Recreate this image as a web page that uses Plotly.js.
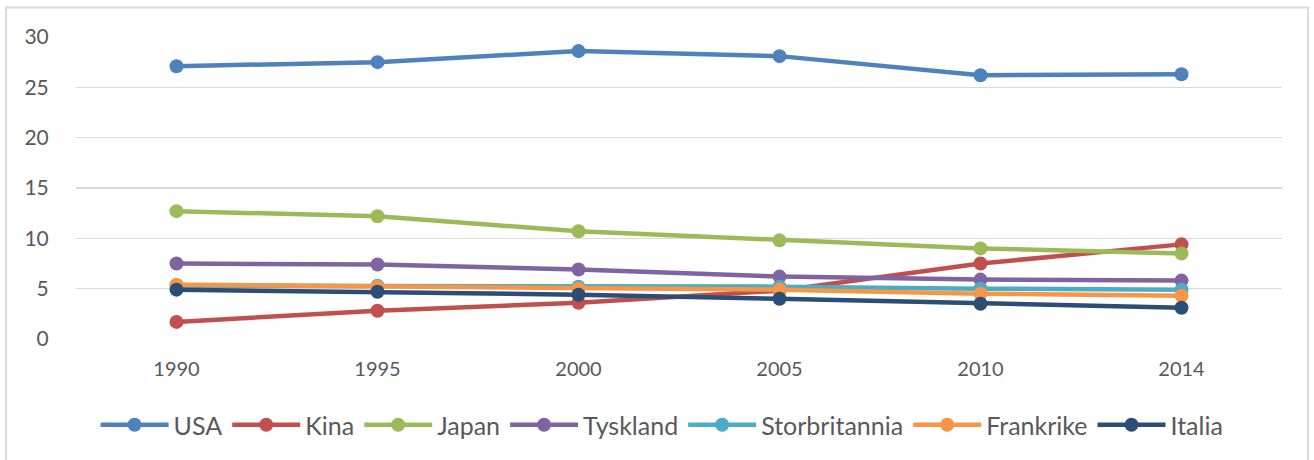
<!DOCTYPE html>
<html>
<head>
<meta charset="utf-8">
<script src="https://cdn.plot.ly/plotly-3.0.1.min.js"></script>
<style>
  html, body { margin: 0; padding: 0; background: #ffffff; }
  #chart { width: 1314px; height: 460px; }
</style>
</head>
<body>
<div id="chart"></div>
<script>
const years = ['1990', '1995', '2000', '2005', '2010', '2014'];
const seriesNames = ['USA', 'Kina', 'Japan', 'Tyskland', 'Storbritannia', 'Frankrike', 'Italia'];
const usa = [27.1, 27.5, 28.6, 28.1, 26.2, 26.3];
const kina = [1.7, 2.8, 3.6, 4.8, 7.5, 9.4];
const japan = [12.7, 12.2, 10.7, 9.8, 9.0, 8.5];
const tyskland = [7.5, 7.4, 6.9, 6.2, 5.9, 5.8];
const storbritannia = [5.3, 5.3, 5.2, 5.2, 5.0, 4.9];
const frankrike = [5.4, 5.2, 5.0, 4.9, 4.5, 4.3];
const italia = [4.9, 4.7, 4.4, 4.0, 3.5, 3.1];
const yTicks = [0, 5, 10, 15, 20, 25, 30];

const seriesValues = [usa, kina, japan, tyskland, storbritannia, frankrike, italia];
const colors = ['#4F81BD', '#C0504D', '#9BBB59', '#8064A2', '#4BACC6', '#F79646', '#2C4D75'];

const traces = seriesNames.map((name, i) => ({
  type: 'scatter',
  mode: 'lines+markers',
  name: name,
  x: years,
  y: seriesValues[i],
  line: { color: colors[i], width: 4.5 },
  marker: { color: colors[i], size: 14 }
}));

const layout = {
  width: 1314,
  height: 460,
  paper_bgcolor: '#ffffff',
  plot_bgcolor: '#ffffff',
  margin: { l: 76, r: 32, t: 37, b: 121 },
  font: { family: 'Lato, "Open Sans", sans-serif', color: '#595959' },
  showlegend: true,
  xaxis: {
    type: 'category',
    range: [-0.5, 5.5],
    showgrid: false,
    showline: false,
    zeroline: false,
    ticks: 'outside',
    ticklen: 12,
    tickcolor: 'rgba(0,0,0,0)',
    tickfont: { size: 20, color: '#595959' }
  },
  yaxis: {
    range: [0, 30],
    tickvals: yTicks,
    showgrid: true,
    gridcolor: '#D9D9D9',
    gridwidth: 1.5,
    zeroline: false,
    showline: false,
    ticks: 'outside',
    ticklen: 22,
    tickcolor: 'rgba(0,0,0,0)',
    tickfont: { size: 21, color: '#595959' }
  },
  legend: {
    orientation: 'h',
    x: 0.486,
    xanchor: 'center',
    y: -0.285,
    yanchor: 'middle',
    font: { size: 25, color: '#595959' },
    itemwidth: 68,
    traceorder: 'normal'
  },
  shapes: [{
    type: 'rect',
    xref: 'paper', yref: 'paper',
    x0: -0.058, x1: 1.0216, y0: -0.45, y1: 1.0977,
    line: { color: '#D9D9D9', width: 2 },
    fillcolor: 'rgba(0,0,0,0)',
    layer: 'below'
  }]
};

Plotly.newPlot('chart', traces, layout, { displayModeBar: false, staticPlot: true });
</script>
</body>
</html>
